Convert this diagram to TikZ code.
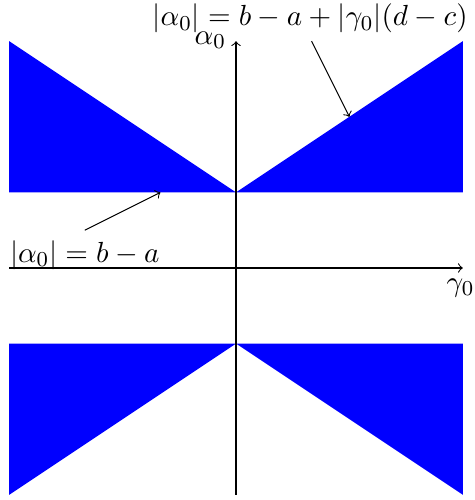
\documentclass[tikz,border=0pt]{standalone}
\usetikzlibrary{arrows}
\begin{document}
\begin{tikzpicture}[every node/.style={font=\fontsize{10.8}{13}\selectfont}]
\useasboundingbox (-3.122,-3.069) rectangle (3.161,3.545);
\tikzset{region/.style={fill=blue,draw=none},
         axis/.style={->},
         pointer/.style={->}}
% regions
\fill[region] (-3,3) -- (-3,1) -- (0,1) -- cycle;
\fill[region] (3,3) -- (3,1) -- (0,1) -- cycle;
\fill[region] (-3,-3) -- (-3,-1) -- (0,-1) -- cycle;
\fill[region] (3,-3) -- (3,-1) -- (0,-1) -- cycle;
% axes
\coordinate (xs) at (-3,0);
\coordinate (xe) at (3,0);
\coordinate (ys) at (0,-3);
\coordinate (ye) at (0,3);
\draw[axis] (xs) -- (xe);
\draw[axis] (ys) -- (ye);
\node (xl) at (2.97,-0.26) {$\gamma_0$};
\node (yl) at (-0.34,3.01) {$\alpha_0$};
% labels
\node (top) at (0.98,3.30) {$|\alpha_0|=b-a+|\gamma_0|(d-c)$};
\coordinate (ta) at (1,3);
\coordinate (tb) at (1.5,2);
\draw[pointer] (ta) -- (tb);
\node (bot) at (-2.0,0.17) {$|\alpha_0|=b-a$};
\coordinate (ba) at (-2,0.5);
\coordinate (bb) at (-1,1);
\draw[pointer] (ba) -- (bb);
\end{tikzpicture}
\end{document}
